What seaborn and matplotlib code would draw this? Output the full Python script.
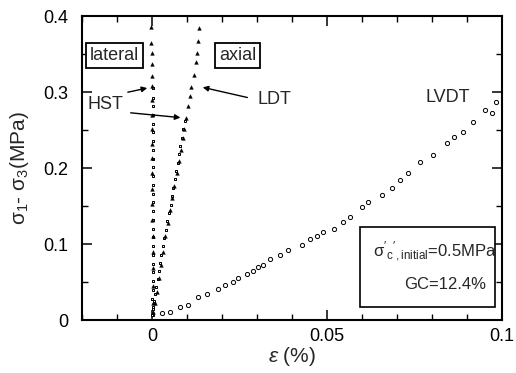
import matplotlib
matplotlib.use("Agg")
import matplotlib.pyplot as plt
import seaborn as sns
import pandas as pd
from matplotlib.ticker import MultipleLocator
from matplotlib.patches import Rectangle

# ---- data ----
# LVDT axial strain (open circles)
lvdt_x = [0.0029, 0.0051, 0.0080, 0.0103, 0.0131, 0.0157, 0.0189, 0.0209, 0.0231,
          0.0246, 0.0271, 0.0289, 0.0303, 0.0317, 0.0337, 0.0366, 0.0389, 0.0429,
          0.0451, 0.0471, 0.0489, 0.0520, 0.0546, 0.0566, 0.0600, 0.0617, 0.0657,
          0.0686, 0.0709, 0.0731, 0.0766, 0.0803, 0.0843, 0.0863, 0.0889, 0.0917,
          0.0951, 0.0971, 0.0983]
lvdt_y = [0.009, 0.011, 0.017, 0.020, 0.030, 0.034, 0.041, 0.046, 0.050,
          0.055, 0.061, 0.064, 0.070, 0.072, 0.080, 0.086, 0.092, 0.099,
          0.107, 0.111, 0.116, 0.120, 0.129, 0.136, 0.149, 0.155, 0.164,
          0.174, 0.184, 0.193, 0.208, 0.217, 0.233, 0.241, 0.247, 0.261,
          0.276, 0.272, 0.287]

# LDT axial strain (triangles)
ldt_ax_x = [0.0133, 0.0131, 0.0128, 0.0126, 0.0121, 0.0111, 0.0107, 0.0102, 0.0097,
            0.0092, 0.0088, 0.0083, 0.0077, 0.0071, 0.0064, 0.0058, 0.0051, 0.0045,
            0.0038, 0.0031, 0.0025, 0.0019, 0.0013, 0.0008, 0.0004]
ldt_ax_y = [0.384, 0.367, 0.352, 0.339, 0.322, 0.307, 0.295, 0.281, 0.266,
            0.252, 0.240, 0.224, 0.209, 0.193, 0.176, 0.161, 0.145, 0.128,
            0.110, 0.090, 0.073, 0.055, 0.037, 0.022, 0.010]

# HST axial strain (small squares)
hst_ax_x = [0.0093, 0.0089, 0.0086, 0.0081, 0.0078, 0.0074, 0.0069, 0.0066, 0.0061,
            0.0057, 0.0053, 0.0049, 0.0044, 0.0040, 0.0035, 0.0031, 0.0027, 0.0023,
            0.0019, 0.0016, 0.0012, 0.0009, 0.0006, 0.0004, 0.0002]
hst_ax_y = [0.262, 0.251, 0.240, 0.229, 0.218, 0.207, 0.196, 0.185, 0.174,
            0.163, 0.152, 0.141, 0.130, 0.119, 0.108, 0.097, 0.086, 0.075,
            0.064, 0.054, 0.044, 0.034, 0.025, 0.015, 0.006]

# LDT lateral strain (triangles)
ldt_lat_x = [-0.0002, -0.0002, -0.0001, -0.0001, -0.0001, -0.0001, 0.0000, 0.0000,
             0.0000, 0.0001, 0.0001, 0.0001, 0.0001, 0.0001, 0.0001, 0.0002, 0.0002,
             0.0002, 0.0002, 0.0002]
ldt_lat_y = [0.386, 0.365, 0.351, 0.337, 0.321, 0.308, 0.290, 0.270, 0.252,
             0.232, 0.213, 0.193, 0.172, 0.153, 0.132, 0.111, 0.090, 0.068,
             0.045, 0.022]

# HST lateral strain (small squares)
hst_lat_x = [0.0002, 0.0003, 0.0002, 0.0003, 0.0003, 0.0002, 0.0003, 0.0003, 0.0002,
             0.0003, 0.0003, 0.0002, 0.0003, 0.0003, 0.0002, 0.0003, 0.0002, 0.0003,
             0.0002, 0.0003, 0.0002, 0.0002, 0.0003, 0.0002, 0.0001, 0.0002, 0.0001]
hst_lat_y = [0.305, 0.292, 0.281, 0.270, 0.258, 0.247, 0.236, 0.224, 0.212,
             0.201, 0.189, 0.178, 0.166, 0.155, 0.143, 0.132, 0.120, 0.109,
             0.097, 0.086, 0.074, 0.063, 0.051, 0.040, 0.028, 0.017, 0.006]

sns.set_theme(style="ticks")
plt.rcParams['font.family'] = ['Liberation Sans', 'DejaVu Sans']
plt.rcParams['mathtext.fontset'] = 'custom'
plt.rcParams['mathtext.rm'] = 'Liberation Sans'
plt.rcParams['mathtext.it'] = 'Liberation Sans:italic'
plt.rcParams['mathtext.bf'] = 'Liberation Sans:bold'

fig = plt.figure(figsize=(5.16, 3.73), dpi=100)
ax = fig.add_axes([0.159, 0.142, 0.814, 0.815])

df_lvdt = pd.DataFrame({"x": lvdt_x, "y": lvdt_y})
df_ldt = pd.DataFrame({"x": ldt_ax_x + ldt_lat_x, "y": ldt_ax_y + ldt_lat_y})
df_hst = pd.DataFrame({"x": hst_ax_x + hst_lat_x, "y": hst_ax_y + hst_lat_y})

sns.scatterplot(data=df_lvdt, x="x", y="y", ax=ax, marker="o", s=9,
                facecolor="white", edgecolor="black", linewidth=0.7)
sns.scatterplot(data=df_hst, x="x", y="y", ax=ax, marker="s", s=4,
                facecolor="white", edgecolor="black", linewidth=0.7)
sns.scatterplot(data=df_ldt, x="x", y="y", ax=ax, marker="^", s=7,
                color="black", edgecolor="black", linewidth=0.3)

ax.set_xlim(-0.02, 0.1)
ax.set_ylim(0, 0.4)
ax.xaxis.set_minor_locator(MultipleLocator(0.01))
ax.yaxis.set_minor_locator(MultipleLocator(0.05))
ax.set_xticks([0, 0.05, 0.1])
ax.set_xticklabels(["0", "0.05", "0.1"])
ax.set_yticks([0, 0.1, 0.2, 0.3, 0.4])
ax.set_yticklabels(["0", "0.1", "0.2", "0.3", "0.4"])
ax.tick_params(which="both", direction="in", top=True, right=True,
               labelsize=13, colors="black")
ax.tick_params(axis="y", pad=10)
ax.tick_params(axis="x", pad=6)
ax.tick_params(which="major", length=7, width=1.1)
ax.tick_params(which="minor", length=4, width=1.0)
for sp in ax.spines.values():
    sp.set_linewidth(1.5)
    sp.set_color("black")

ax.set_xlabel(r"$\varepsilon$ (%)", fontsize=15, labelpad=0)
ax.set_ylabel(r"$\mathrm{\sigma_1}$- $\mathrm{\sigma_3}$(MPa)", fontsize=15, labelpad=9)

box = dict(boxstyle="square,pad=0.22", facecolor="white", edgecolor="black", linewidth=1.3)
ax.text(-0.0177, 0.348, "lateral", fontsize=13, va="center", ha="left", bbox=box)
ax.text(0.0191, 0.348, "axial", fontsize=13, va="center", ha="left", bbox=box)

arw = dict(arrowstyle="-|>", color="black", lw=1.0, mutation_scale=8)
ax.annotate("", xy=(-0.0006, 0.306), xytext=(-0.0077, 0.299), arrowprops=arw)
ax.annotate("", xy=(0.0089, 0.266), xytext=(-0.0069, 0.273), arrowprops=arw)
ax.text(-0.0183, 0.284, "HST", fontsize=13, va="center", ha="left")
ax.annotate("", xy=(0.0137, 0.307), xytext=(0.0280, 0.292), arrowprops=arw)
ax.text(0.0302, 0.290, "LDT", fontsize=13, va="center", ha="left")
ax.text(0.0781, 0.293, "LVDT", fontsize=13, va="center", ha="left")

ax.add_patch(Rectangle((0.662, 0.043), 0.321, 0.263, transform=ax.transAxes,
                       facecolor="white", edgecolor="black", linewidth=1.2, zorder=5))
ax.text(0.84, 0.225, r"$\mathrm{\sigma}'_{\mathrm{c}}{}'_{\mathrm{,initial}}$=0.5MPa",
        transform=ax.transAxes, fontsize=12, ha="center", va="center", zorder=6)
ax.text(0.865, 0.118, "GC=12.4%", transform=ax.transAxes, fontsize=12,
        ha="center", va="center", zorder=6)

fig.savefig("out.png", dpi=100)
